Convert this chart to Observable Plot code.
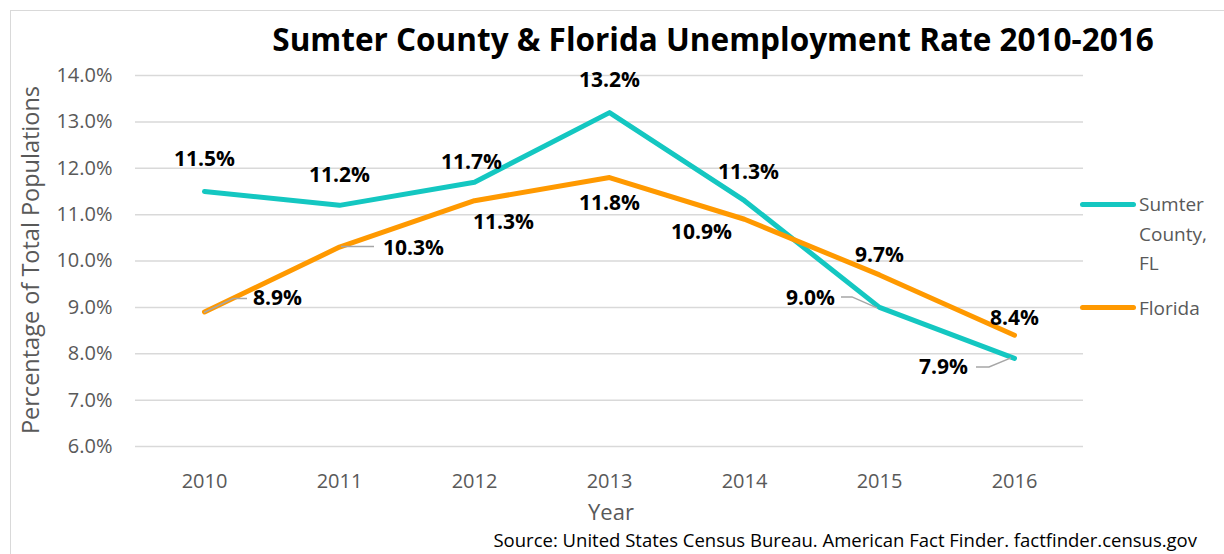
<!DOCTYPE html>
<html>
<head>
<meta charset="utf-8">
<script src="https://cdn.jsdelivr.net/npm/d3@7"></script>
<script src="https://cdn.jsdelivr.net/npm/@observablehq/plot@0.6"></script>
<style>
  html, body { margin: 0; padding: 0; background: #fff; }
  #wrap { position: relative; width: 1224px; height: 554px; overflow: hidden; font-family: "Open Sans", sans-serif; }
  #frame { position: absolute; left: 10px; top: 10px; width: 1400px; height: 800px; border: 1px solid #d9d9d9; box-sizing: border-box; }
  #title { position: absolute; left: 213px; width: 1000px; top: 21px; text-align: center; font-size: 31.5px; line-height: 36px; font-weight: 700; color: #000; white-space: nowrap; }
  #chart { position: absolute; left: 0; top: 62px; }
  #ylabel { position: absolute; left: -170px; top: 246px; width: 400px; height: 28px; line-height: 28px; text-align: center; font-size: 23.5px; color: #595959; transform: rotate(-90deg); white-space: nowrap; }
  #xlabel { position: absolute; left: 511px; width: 200px; top: 497px; line-height: 28px; text-align: center; font-size: 22px; color: #595959; }
  #caption { position: absolute; right: 27px; top: 528px; line-height: 24px; font-size: 18.5px; color: #000; white-space: nowrap; }
  .leg { position: absolute; left: 1080px; width: 56px; height: 5px; border-radius: 3px; }
  .legtext { position: absolute; left: 1139px; font-size: 19px; line-height: 29.5px; color: #595959; }
</style>
</head>
<body>
<div id="wrap">
  <div id="frame"></div>
  <div id="title">Sumter County &amp; Florida Unemployment Rate 2010-2016</div>
  <div id="chart"></div>
  <div id="ylabel">Percentage of Total Populations</div>
  <div id="xlabel">Year</div>
  <div id="caption">Source: United States Census Bureau. American Fact Finder. factfinder.census.gov</div>
  <div id="legend"></div>
</div>
<script>
// ---- data ----
const years = ["2010", "2011", "2012", "2013", "2014", "2015", "2016"];
const sumter = [11.5, 11.2, 11.7, 13.2, 11.3, 9.0, 7.9];
const florida = [8.9, 10.3, 11.3, 11.8, 10.9, 9.7, 8.4];
const yTicks = [6, 7, 8, 9, 10, 11, 12, 13, 14];
const seriesNames = ["Sumter County, FL", "Florida"];

// ---- styles / placement (not data) ----
const colors = {"Sumter County, FL": "#14c7c1", "Florida": "#ff9900"};
const labelOffsets = {
  "Sumter County, FL": [[0,-32],[0,-30],[-3,-20],[0,-32],[4,-28],[-69,-9],[-71,9]],
  "Florida": [[73,-14],[74,1],[29,22],[0,26],[-43,13],[0,-20],[0,-17]]
};
const leaders = [
  {series: "Florida", i: 0, pts: [[0,1],[29,-13],[43,-13]]},
  {series: "Florida", i: 1, pts: [[2,0],[35,0]]},
  {series: "Sumter County, FL", i: 5, pts: [[-38,-10],[-27,-10],[-2,1]]},
  {series: "Sumter County, FL", i: 6, pts: [[-38,9],[-25,9],[-3,0]]}
];

const table = [];
years.forEach((y, i) => table.push({year: y, value: sumter[i], series: seriesNames[0], i}));
years.forEach((y, i) => table.push({year: y, value: florida[i], series: seriesNames[1], i}));

const labelMarks = table.map(d => {
  const [dx, dy] = labelOffsets[d.series][d.i];
  return Plot.text([d], {
    x: "year", y: "value", text: v => v.value.toFixed(1) + "%",
    dx, dy, fill: "#000", fontWeight: "bold", fontSize: 21, textAnchor: "middle"
  });
});

const plot = Plot.plot({
  width: 1224,
  height: 462,
  marginLeft: 135,
  marginRight: 141,
  marginTop: 13,
  marginBottom: 78,
  style: {fontFamily: "Open Sans, sans-serif", fontSize: "20px", color: "#595959", background: "transparent", overflow: "visible"},
  x: {type: "point", domain: years, label: null, tickSize: 0, tickPadding: 27},
  y: {domain: [6, 14], ticks: yTicks, tickFormat: d => d.toFixed(1) + "%", label: null, tickSize: 0, tickPadding: 23},
  marks: [
    Plot.ruleY(yTicks, {stroke: "#d9d9d9", strokeWidth: 1.5}),
    ...seriesNames.map(s => Plot.line(table.filter(d => d.series === s), {
      x: "year", y: "value", stroke: colors[s], strokeWidth: 5,
      strokeLinecap: "round", strokeLinejoin: "round"
    })),
    ...labelMarks
  ]
});

// leader lines, positioned through the plot's own scales
const xs = plot.scale("x"), ys = plot.scale("y");
const fx = xs.apply ? v => xs.apply(v) : d3.scalePoint(xs.domain, xs.range).padding(0.5);
const fy = ys.apply ? v => ys.apply(v) : d3.scaleLinear(ys.domain, ys.range);
const valuesOf = {"Sumter County, FL": sumter, "Florida": florida};
d3.select(plot).append("g")
  .selectAll("path").data(leaders).join("path")
  .attr("fill", "none").attr("stroke", "#a6a6a6").attr("stroke-width", 1.5)
  .attr("d", l => {
    const px = fx(years[l.i]), py = fy(valuesOf[l.series][l.i]);
    return "M" + l.pts.map(([dx, dy]) => (px + dx) + "," + (py + dy)).join("L");
  });

document.getElementById("chart").append(plot);

// legend (HTML)
const legend = document.getElementById("legend");
const legendRows = [
  {name: "Sumter County, FL", lines: ["Sumter", "County,", "FL"], lineY: 202, textTop: 190},
  {name: "Florida", lines: ["Florida"], lineY: 305, textTop: 294}
];
legendRows.forEach(r => {
  const sw = document.createElement("div");
  sw.className = "leg";
  sw.style.top = r.lineY + "px";
  sw.style.background = colors[r.name];
  legend.append(sw);
  const t = document.createElement("div");
  t.className = "legtext";
  t.style.top = r.textTop + "px";
  t.innerHTML = r.lines.join("<br>");
  legend.append(t);
});
</script>
</body>
</html>
